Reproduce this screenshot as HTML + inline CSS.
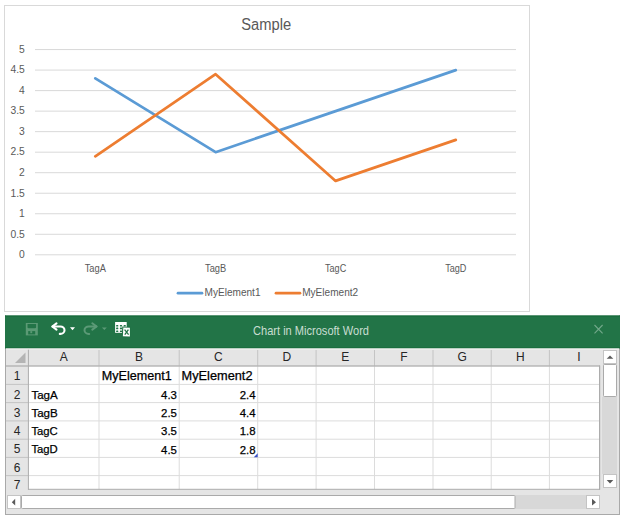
<!DOCTYPE html><html><head><meta charset="utf-8"><style>html,body{margin:0;padding:0;background:#fff;width:624px;height:520px;overflow:hidden}svg{display:block}text{font-family:"Liberation Sans", sans-serif}</style></head><body>
<svg width="624" height="520" viewBox="0 0 624 520">
<rect x="4.5" y="5.5" width="525" height="306" fill="#fff" stroke="#d9d9d9" stroke-width="1"/>
<text x="241.3" y="29.9" font-size="15.6" fill="#595959" textLength="49.9" lengthAdjust="spacingAndGlyphs">Sample</text>
<rect x="35" y="254.30" width="481" height="1" fill="#d9d9d9"/>
<rect x="35" y="233.78" width="481" height="1" fill="#d9d9d9"/>
<rect x="35" y="213.25" width="481" height="1" fill="#d9d9d9"/>
<rect x="35" y="192.73" width="481" height="1" fill="#d9d9d9"/>
<rect x="35" y="172.20" width="481" height="1" fill="#d9d9d9"/>
<rect x="35" y="151.68" width="481" height="1" fill="#d9d9d9"/>
<rect x="35" y="131.15" width="481" height="1" fill="#d9d9d9"/>
<rect x="35" y="110.63" width="481" height="1" fill="#d9d9d9"/>
<rect x="35" y="90.10" width="481" height="1" fill="#d9d9d9"/>
<rect x="35" y="69.58" width="481" height="1" fill="#d9d9d9"/>
<rect x="35" y="49.05" width="481" height="1" fill="#d9d9d9"/>
<text x="24.8" y="258.10" font-size="10.3" fill="#595959" text-anchor="end">0</text>
<text x="24.8" y="237.58" font-size="10.3" fill="#595959" text-anchor="end">0.5</text>
<text x="24.8" y="217.05" font-size="10.3" fill="#595959" text-anchor="end">1</text>
<text x="24.8" y="196.53" font-size="10.3" fill="#595959" text-anchor="end">1.5</text>
<text x="24.8" y="176.00" font-size="10.3" fill="#595959" text-anchor="end">2</text>
<text x="24.8" y="155.48" font-size="10.3" fill="#595959" text-anchor="end">2.5</text>
<text x="24.8" y="134.95" font-size="10.3" fill="#595959" text-anchor="end">3</text>
<text x="24.8" y="114.43" font-size="10.3" fill="#595959" text-anchor="end">3.5</text>
<text x="24.8" y="93.90" font-size="10.3" fill="#595959" text-anchor="end">4</text>
<text x="24.8" y="73.38" font-size="10.3" fill="#595959" text-anchor="end">4.5</text>
<text x="24.8" y="52.85" font-size="10.3" fill="#595959" text-anchor="end">5</text>
<text x="84.7" y="272" font-size="10.4" fill="#595959" textLength="21.2" lengthAdjust="spacingAndGlyphs">TagA</text>
<text x="205.0" y="272" font-size="10.4" fill="#595959" textLength="21.2" lengthAdjust="spacingAndGlyphs">TagB</text>
<text x="325.0" y="272" font-size="10.4" fill="#595959" textLength="21.2" lengthAdjust="spacingAndGlyphs">TagC</text>
<text x="445.2" y="272" font-size="10.4" fill="#595959" textLength="21.2" lengthAdjust="spacingAndGlyphs">TagD</text>
<polyline points="95.3,78.3 215.6,152.2 335.6,111.1 455.8,70.1" fill="none" stroke="#5b9bd5" stroke-width="2.7" stroke-linecap="round" stroke-linejoin="round"/>
<polyline points="95.3,156.3 215.6,74.2 335.6,180.9 455.8,139.9" fill="none" stroke="#ed7d31" stroke-width="2.7" stroke-linecap="round" stroke-linejoin="round"/>
<line x1="178" x2="202" y1="293.2" y2="293.2" stroke="#5b9bd5" stroke-width="2.7" stroke-linecap="round"/>
<text x="204.5" y="296.4" font-size="10.1" fill="#595959" textLength="56" lengthAdjust="spacingAndGlyphs">MyElement1</text>
<line x1="276" x2="300" y1="293.2" y2="293.2" stroke="#ed7d31" stroke-width="2.7" stroke-linecap="round"/>
<text x="302.2" y="296.4" font-size="10.1" fill="#595959" textLength="56" lengthAdjust="spacingAndGlyphs">MyElement2</text>
<rect x="5" y="315" width="615" height="200" fill="#e5e5e5"/>
<rect x="5" y="315" width="1" height="200" fill="#a9a9a9"/>
<rect x="619" y="315" width="1" height="200" fill="#a9a9a9"/>
<rect x="5" y="514" width="615" height="1" fill="#a9a9a9"/>
<rect x="5" y="315.3" width="615" height="33.2" fill="#227447"/>
<rect x="5" y="316" width="615" height="1" fill="#1a6e3e"/>
<rect x="5" y="347" width="615" height="1" fill="#1a6e3e"/>
<rect x="6" y="348.5" width="613" height="1.2" fill="#f6f4f6"/>
<text x="253" y="335.3" font-size="12.2" fill="#c9ddd1" textLength="116" lengthAdjust="spacingAndGlyphs">Chart in Microsoft Word</text>
<path d="M594.5 325 L602.6 333.3 M602.6 325 L594.5 333.3" stroke="#72a88a" stroke-width="1.1"/>
<rect x="25.8" y="323" width="12" height="12.4" fill="#5b9a75"/>
<path d="M27.5 324 H36.1 V327.2 Q36.1 328.3 35 328.3 H28.6 Q27.5 328.3 27.5 327.2 Z" fill="#227447"/>
<rect x="28.2" y="331.1" width="7" height="3.3" fill="#227447"/>
<rect x="30.3" y="331.1" width="1.9" height="2.1" fill="#5b9a75"/>
<g fill="none" stroke="#fff" stroke-width="2.1" stroke-linecap="round" stroke-linejoin="round"><path d="M52.6 326.5 H60.4 A4.1 3.7 0 0 1 60.4 333.9 H59.8"/><path d="M56.5 323.3 L52.3 326.5 L56.5 329.6"/></g>
<path d="M70 327.3 H75 L72.5 330.2 Z" fill="#fff"/>
<g fill="none" stroke="#5c9a77" stroke-width="2" stroke-linecap="round" stroke-linejoin="round"><path d="M96.4 326.5 H88.8 A4.3 3.7 0 0 0 88.8 333.9 H89.2"/><path d="M92.3 323.3 L96.6 326.5 L92.3 329.6"/></g>
<path d="M101.9 327.4 H106.8 L104.35 330.1 Z" fill="#5c9a77"/>
<rect x="115.1" y="322" width="11.6" height="10.8" fill="#fff"/>
<rect x="116.1" y="324.9" width="2.2" height="1.6" rx="0.5" fill="#227447"/>
<rect x="119.9" y="324.9" width="2.2" height="1.6" rx="0.5" fill="#227447"/>
<rect x="123.6" y="324.9" width="2.2" height="1.6" rx="0.5" fill="#227447"/>
<rect x="116.1" y="327.6" width="2.2" height="1.6" rx="0.5" fill="#227447"/>
<rect x="119.9" y="327.6" width="2.2" height="1.6" rx="0.5" fill="#227447"/>
<rect x="123.6" y="327.6" width="2.2" height="1.6" rx="0.5" fill="#227447"/>
<rect x="116.1" y="330.4" width="2.2" height="1.6" rx="0.5" fill="#227447"/>
<rect x="119.9" y="330.4" width="2.2" height="1.6" rx="0.5" fill="#227447"/>
<rect x="123.6" y="330.4" width="2.2" height="1.6" rx="0.5" fill="#227447"/>
<path d="M122.3 326.6 L130.6 326.9 L130.6 337.3 L121.7 336.9 Z" fill="#227447"/>
<path d="M123.3 327.5 L129.9 327.8 L129.9 336.6 L122.9 336.2 Z" fill="#fff"/>
<path d="M124.6 329.6 L128.6 334.6 M128.4 329.6 L124.8 334.6" stroke="#227447" stroke-width="1.3"/>
<rect x="6" y="349.7" width="594" height="16" fill="#e5e5e5"/>
<rect x="28.5" y="366" width="571" height="123.3" fill="#fff"/>
<rect x="29" y="383.9" width="570.5" height="1" fill="#dcdcdc"/>
<rect x="6" y="383.9" width="22.5" height="1" fill="#c4c4c4"/>
<rect x="29" y="402.1" width="570.5" height="1" fill="#dcdcdc"/>
<rect x="6" y="402.1" width="22.5" height="1" fill="#c4c4c4"/>
<rect x="29" y="420.4" width="570.5" height="1" fill="#dcdcdc"/>
<rect x="6" y="420.4" width="22.5" height="1" fill="#c4c4c4"/>
<rect x="29" y="438.7" width="570.5" height="1" fill="#dcdcdc"/>
<rect x="6" y="438.7" width="22.5" height="1" fill="#c4c4c4"/>
<rect x="29" y="456.9" width="570.5" height="1" fill="#dcdcdc"/>
<rect x="6" y="456.9" width="22.5" height="1" fill="#c4c4c4"/>
<rect x="29" y="475.1" width="570.5" height="1" fill="#dcdcdc"/>
<rect x="6" y="475.1" width="22.5" height="1" fill="#c4c4c4"/>
<rect x="98.5" y="366" width="1" height="123.3" fill="#dcdcdc"/>
<rect x="98.5" y="350" width="1" height="16" fill="#c4c4c4"/>
<rect x="178.7" y="366" width="1" height="123.3" fill="#dcdcdc"/>
<rect x="178.7" y="350" width="1" height="16" fill="#c4c4c4"/>
<rect x="257.2" y="366" width="1" height="123.3" fill="#dcdcdc"/>
<rect x="257.2" y="350" width="1" height="16" fill="#c4c4c4"/>
<rect x="315.6" y="366" width="1" height="123.3" fill="#dcdcdc"/>
<rect x="315.6" y="350" width="1" height="16" fill="#c4c4c4"/>
<rect x="374.0" y="366" width="1" height="123.3" fill="#dcdcdc"/>
<rect x="374.0" y="350" width="1" height="16" fill="#c4c4c4"/>
<rect x="432.5" y="366" width="1" height="123.3" fill="#dcdcdc"/>
<rect x="432.5" y="350" width="1" height="16" fill="#c4c4c4"/>
<rect x="490.7" y="366" width="1" height="123.3" fill="#dcdcdc"/>
<rect x="490.7" y="350" width="1" height="16" fill="#c4c4c4"/>
<rect x="548.9" y="366" width="1" height="123.3" fill="#dcdcdc"/>
<rect x="548.9" y="350" width="1" height="16" fill="#c4c4c4"/>
<rect x="6" y="365.3" width="594" height="1.4" fill="#b4b4b4"/>
<rect x="27.9" y="349.7" width="1" height="140" fill="#acacac"/>
<rect x="599" y="365.5" width="1.2" height="124.3" fill="#acacac"/>
<rect x="28" y="488.8" width="572" height="1" fill="#acacac"/>
<path d="M15 363 L25.5 363 L25.5 352.5 Z" fill="#b4b4b4"/>
<text x="63.7" y="361.4" font-size="12" fill="#262626" text-anchor="middle">A</text>
<text x="139.1" y="361.4" font-size="12" fill="#262626" text-anchor="middle">B</text>
<text x="218.4" y="361.4" font-size="12" fill="#262626" text-anchor="middle">C</text>
<text x="286.9" y="361.4" font-size="12" fill="#262626" text-anchor="middle">D</text>
<text x="345.3" y="361.4" font-size="12" fill="#262626" text-anchor="middle">E</text>
<text x="403.8" y="361.4" font-size="12" fill="#262626" text-anchor="middle">F</text>
<text x="462.1" y="361.4" font-size="12" fill="#262626" text-anchor="middle">G</text>
<text x="520.3" y="361.4" font-size="12" fill="#262626" text-anchor="middle">H</text>
<text x="579.0" y="361.4" font-size="12" fill="#262626" text-anchor="middle">I</text>
<defs><clipPath id="gc"><rect x="0" y="0" width="624" height="489"/></clipPath></defs>
<g clip-path="url(#gc)">
<text x="17.2" y="380.4" font-size="12" fill="#262626" text-anchor="middle">1</text>
<text x="17.2" y="398.6" font-size="12" fill="#262626" text-anchor="middle">2</text>
<text x="17.2" y="416.9" font-size="12" fill="#262626" text-anchor="middle">3</text>
<text x="17.2" y="435.2" font-size="12" fill="#262626" text-anchor="middle">4</text>
<text x="17.2" y="453.4" font-size="12" fill="#262626" text-anchor="middle">5</text>
<text x="17.2" y="471.6" font-size="12" fill="#262626" text-anchor="middle">6</text>
<text x="17.2" y="488.8" font-size="12" fill="#262626" text-anchor="middle">7</text>
</g>
<text x="101.8" y="380.4" font-size="12" fill="#000" stroke="#000" stroke-width="0.25" text-anchor="start" textLength="69.9" lengthAdjust="spacingAndGlyphs">MyElement1</text>
<text x="181.6" y="380.4" font-size="12" fill="#000" stroke="#000" stroke-width="0.25" text-anchor="start" textLength="70.9" lengthAdjust="spacingAndGlyphs">MyElement2</text>
<text x="31.4" y="398.6" font-size="11.8" fill="#000" stroke="#000" stroke-width="0.25" text-anchor="start" textLength="26.4" lengthAdjust="spacingAndGlyphs">TagA</text>
<text x="176.9" y="398.7" font-size="11.4" fill="#000" stroke="#000" stroke-width="0.25" text-anchor="end">4.3</text>
<text x="255.6" y="398.7" font-size="11.4" fill="#000" stroke="#000" stroke-width="0.25" text-anchor="end">2.4</text>
<text x="31.4" y="416.9" font-size="11.8" fill="#000" stroke="#000" stroke-width="0.25" text-anchor="start" textLength="26.4" lengthAdjust="spacingAndGlyphs">TagB</text>
<text x="176.9" y="417.0" font-size="11.4" fill="#000" stroke="#000" stroke-width="0.25" text-anchor="end">2.5</text>
<text x="255.6" y="417.0" font-size="11.4" fill="#000" stroke="#000" stroke-width="0.25" text-anchor="end">4.4</text>
<text x="31.4" y="435.2" font-size="11.8" fill="#000" stroke="#000" stroke-width="0.25" text-anchor="start" textLength="26.4" lengthAdjust="spacingAndGlyphs">TagC</text>
<text x="176.9" y="435.3" font-size="11.4" fill="#000" stroke="#000" stroke-width="0.25" text-anchor="end">3.5</text>
<text x="255.6" y="435.3" font-size="11.4" fill="#000" stroke="#000" stroke-width="0.25" text-anchor="end">1.8</text>
<text x="31.4" y="453.4" font-size="11.8" fill="#000" stroke="#000" stroke-width="0.25" text-anchor="start" textLength="26.4" lengthAdjust="spacingAndGlyphs">TagD</text>
<text x="176.9" y="453.5" font-size="11.4" fill="#000" stroke="#000" stroke-width="0.25" text-anchor="end">4.5</text>
<text x="255.6" y="453.5" font-size="11.4" fill="#000" stroke="#000" stroke-width="0.25" text-anchor="end">2.8</text>
<path d="M253.8 457.2 L257.7 457.2 L257.7 453.3 Z" fill="#3a50c8"/>
<rect x="602" y="397" width="15" height="77" fill="#d8d8d8"/>
<rect x="603.5" y="350.5" width="13" height="13" fill="#fff" stroke="#c4c4c4"/>
<path d="M606.7 358.8 L613.3 358.8 L610 355.4 Z" fill="#5a5a5a"/>
<rect x="603.5" y="364.5" width="13" height="32" rx="0.8" fill="#fff" stroke="#aaaaaa"/>
<rect x="603.5" y="474.5" width="13" height="13" fill="#fff" stroke="#c4c4c4"/>
<path d="M606.7 480 L613.3 480 L610 483.4 Z" fill="#5a5a5a"/>
<rect x="515" y="495" width="71" height="14" fill="#d8d8d8"/>
<rect x="7.5" y="495.5" width="13" height="13" fill="#fff" stroke="#c4c4c4"/>
<path d="M15.2 498.8 L15.2 505.6 L11.8 502.2 Z" fill="#5a5a5a"/>
<rect x="21.5" y="495.5" width="493.5" height="13" rx="0.8" fill="#fff" stroke="#aaaaaa"/>
<rect x="586.5" y="495.5" width="13" height="13" fill="#fff" stroke="#c4c4c4"/>
<path d="M592 498.8 L592 505.6 L596 502.2 Z" fill="#5a5a5a"/>
</svg></body></html>
